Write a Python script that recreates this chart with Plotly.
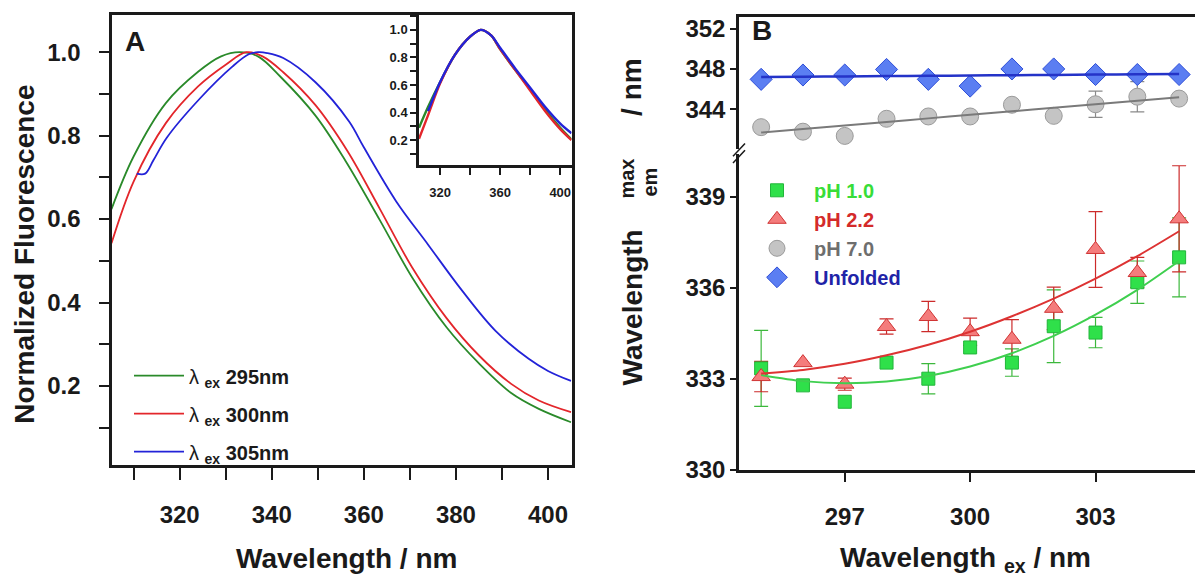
import plotly.graph_objects as go

W, H = 1195, 580
FONT = "Liberation Sans, Arial, sans-serif"

# ---------------- Panel A: normalized emission spectra ----------------
green_x = [305.2, 310, 317, 324, 329, 333, 337, 342, 349.5, 356, 363.5, 370.5, 378, 385, 392, 398, 405]
green_y = [0.624, 0.75, 0.878, 0.953, 0.99, 1.0, 0.99, 0.94, 0.848, 0.74, 0.597, 0.46, 0.34, 0.254, 0.183, 0.145, 0.113]

red_x = [305.2, 310, 317, 324, 330, 334.5, 338, 342.5, 349.5, 356.5, 363.5, 370.5, 378, 385, 392, 398, 405]
red_y = [0.542, 0.69, 0.83, 0.918, 0.97, 1.0, 0.99, 0.952, 0.873, 0.762, 0.624, 0.484, 0.362, 0.273, 0.205, 0.165, 0.137]

blue_x = [310.7, 312.5, 314.3, 317.2, 324.4, 331.5, 335, 337, 339, 342.5, 349.5, 356.8, 360, 367, 374, 381.3, 388.6, 395.8, 400, 405]
blue_y = [0.709, 0.709, 0.741, 0.795, 0.889, 0.966, 0.995, 1.0, 0.998, 0.986, 0.928, 0.834, 0.772, 0.643, 0.538, 0.429, 0.332, 0.265, 0.236, 0.212]

# inset
inset_x = [306, 312, 320, 330, 340, 347, 354, 360, 370, 380, 390, 400, 407.5]
inset_green = [0.29, 0.44, 0.62, 0.82, 0.95, 1.0, 0.96, 0.86, 0.71, 0.57, 0.42, 0.29, 0.205]
inset_red = [0.21, 0.38, 0.61, 0.82, 0.95, 1.0, 0.96, 0.86, 0.71, 0.56, 0.41, 0.28, 0.20]
inset_blue = [None, 0.41, 0.62, 0.82, 0.95, 1.0, 0.96, 0.87, 0.72, 0.58, 0.44, 0.32, 0.25]

legend_a = ["295nm", "300nm", "305nm"]

# ---------------- Panel B: emission maximum vs excitation ----------------
ex_wl = [295, 296, 297, 298, 299, 300, 301, 302, 303, 304, 305]
ph1_y = [333.34, 332.78, 332.24, 333.53, 333.0, 334.03, 333.53, 334.73, 334.52, 336.18, 337.0]
ph1_err = [1.25, None, None, None, 0.5, None, 0.45, 1.2, 0.5, 0.7, 1.3]
ph1_fit = [333.12, 332.92, 332.85, 332.91, 333.09, 333.40, 333.84, 334.41, 335.11, 335.93, 336.88]

ph22_y = [333.07, 333.53, 332.82, 334.72, 335.05, 334.55, 334.3, 335.32, 337.26, 336.5, 338.27]
ph22_err = [0.5, None, 0.2, 0.25, 0.5, 0.45, 0.65, 0.7, 1.25, 0.5, 1.75]
ph22_fit = [333.17, 333.29, 333.49, 333.77, 334.12, 334.55, 335.06, 335.64, 336.30, 337.04, 337.86]

ph7_y = [342.23, 341.78, 341.36, 343.06, 343.29, 343.29, 344.45, 343.35, 344.5, 345.25, 345.06]
ph7_err = [None, None, None, None, None, None, None, None, 1.3, 1.5, None]
ph7_fit = [341.7, 342.05, 342.4, 342.75, 343.1, 343.45, 343.8, 344.15, 344.5, 344.85, 345.2]

unf_y = [346.97, 347.4, 347.4, 347.95, 346.97, 346.3, 348.0, 348.0, 347.45, 347.45, 347.45]
unf_fit = [347.2, 347.23, 347.26, 347.29, 347.32, 347.35, 347.38, 347.41, 347.44, 347.47, 347.5]

legend_b = ["pH 1.0", "pH 2.2", "pH 7.0", "Unfolded"]


def px(p):
    return p / W


def py(p):
    return 1 - p / H


fig = go.Figure()

# ---- Panel A main curves
for xs, ys, col, lab, grp in [(green_x, green_y, "#2a8a2a", legend_a[0], "a1"),
                              (red_x, red_y, "#e3262b", legend_a[1], "a2"),
                              (blue_x, blue_y, "#2323d8", legend_a[2], "a3")]:
    fig.add_trace(go.Scatter(x=xs, y=ys, mode="lines", xaxis="x", yaxis="y",
                             line=dict(color=col, width=1.8, shape="spline", smoothing=1.0),
                             name="<span style='font-weight:normal'>λ</span> <sub>ex</sub> " + lab,
                             legend="legend", legendgroup=grp))

# ---- inset
for ys, col in [(inset_green, "#2a8a2a"), (inset_red, "#e3262b"), (inset_blue, "#2323d8")]:
    fig.add_trace(go.Scatter(x=inset_x, y=ys, mode="lines", xaxis="x2", yaxis="y2",
                             line=dict(color=col, width=2.4, shape="spline", smoothing=0.8),
                             showlegend=False, connectgaps=False))

# ---- Panel B
def err_trace(ys, errs, col, xa, ya):
    idx = [i for i, e in enumerate(errs) if e is not None]
    return go.Scatter(x=[ex_wl[i] for i in idx], y=[ys[i] for i in idx], mode="markers",
                      xaxis=xa, yaxis=ya, marker=dict(size=1, opacity=0), showlegend=False,
                      error_y=dict(type="data", array=[errs[i] for i in idx], color=col,
                                   thickness=1.2, width=7))

fig.add_trace(err_trace(ph1_y, ph1_err, "#3cb83c", "x3", "y3"))
fig.add_trace(err_trace(ph22_y, ph22_err, "#cc2a2a", "x3", "y3"))
fig.add_trace(err_trace(ph7_y, ph7_err, "#8a8a8a", "x4", "y4"))

fig.add_trace(go.Scatter(x=ex_wl, y=ph1_y, mode="markers", xaxis="x3", yaxis="y3",
                         marker=dict(symbol="square", size=13, color="#2fe04a",
                                     line=dict(color="#22b53a", width=1)),
                         name="<span style='color:#38dd38'>" + legend_b[0] + "</span>",
                         legend="legend2"))
fig.add_trace(go.Scatter(x=ex_wl, y=ph22_y, mode="markers", xaxis="x3", yaxis="y3",
                         marker=dict(symbol="triangle-up", size=16, color="#f47c7c",
                                     line=dict(color="#d03434", width=1)),
                         name="<span style='color:#d42a2a'>" + legend_b[1] + "</span>",
                         legend="legend2"))
fig.add_trace(go.Scatter(x=ex_wl, y=ph7_y, mode="markers", xaxis="x4", yaxis="y4",
                         marker=dict(symbol="circle", size=17, color="#c4c4c4",
                                     line=dict(color="#9a9a9a", width=1)),
                         name="<span style='color:#6e6e6e'>" + legend_b[2] + "</span>",
                         legend="legend2"))
fig.add_trace(go.Scatter(x=ex_wl, y=unf_y, mode="markers", xaxis="x4", yaxis="y4",
                         marker=dict(symbol="diamond", size=17, color="#5b7ef2",
                                     line=dict(color="#2e4ed8", width=1)),
                         name="<span style='color:#1f24a8'>" + legend_b[3] + "</span>",
                         legend="legend2"))

for ys, col, w, xa, ya in [(ph1_fit, "#3fcf4f", 2, "x3", "y3"),
                           (ph22_fit, "#dd3333", 2, "x3", "y3"),
                           (ph7_fit, "#7a7a7a", 2, "x4", "y4"),
                           (unf_fit, "#2433c8", 2.5, "x4", "y4")]:
    fig.add_trace(go.Scatter(x=ex_wl, y=ys, mode="lines", xaxis=xa, yaxis=ya,
                             line=dict(color=col, width=w, shape="spline", smoothing=0.8),
                             showlegend=False))

AX = "#1a1a1a"
tickfont_big = dict(family=FONT, size=24, color=AX, weight="bold")
tickfont_small = dict(family=FONT, size=13, color=AX, weight="bold")
NB = "\u00a0"

base = dict(showgrid=False, zeroline=False, showline=True, linecolor=AX, linewidth=2.5,
            ticks="outside", tickcolor=AX, tickwidth=2)

fig.update_layout(
    width=W, height=H, margin=dict(l=0, r=0, t=0, b=0),
    paper_bgcolor="white", plot_bgcolor="white",
    font=dict(family=FONT, color=AX),
    xaxis=dict(**base, domain=[px(111.5), px(571.5)], range=[305.2, 405.1], anchor="y",
               mirror=True, ticklen=12, tickvals=[320, 340, 360, 380, 400], ticklabelstandoff=14,
               minor=dict(dtick=10, tick0=300, ticklen=12, tickwidth=2, tickcolor=AX, ticks="outside"),
               tickfont=tickfont_big),
    yaxis=dict(**base, domain=[py(475.7), py(14)], range=[0.01, 1.09], anchor="x",
               mirror=True, ticklen=10, tickvals=[0.2, 0.4, 0.6, 0.8, 1.0],
               ticktext=[v + NB * 2 for v in ["0.2", "0.4", "0.6", "0.8", "1.0"]],
               minor=dict(dtick=0.1, tick0=0, ticklen=10, tickwidth=2, tickcolor=AX, ticks="outside"),
               tickfont=tickfont_big),
    xaxis2=dict(**base, domain=[px(419), px(571.5)], range=[306, 407.5], anchor="y2",
                mirror=True, ticklen=7, tickvals=[320, 360, 400], ticklabelstandoff=7,
                minor=dict(dtick=20, tick0=300, ticklen=7, tickwidth=2, tickcolor=AX, ticks="outside"),
                tickfont=tickfont_small),
    yaxis2=dict(**base, domain=[py(168), py(14)], range=[0.02, 1.11], anchor="x2",
                mirror=True, ticklen=6, tickvals=[0.2, 0.4, 0.6, 0.8, 1.0], tickformat=".1f",
                minor=dict(dtick=0.1, tick0=0, ticklen=6, tickwidth=2, tickcolor=AX, ticks="outside"),
                tickfont=tickfont_small),
    xaxis3=dict(**base, domain=[px(739), 1.0], range=[294.47, 305.38], anchor="y3",
                ticklen=10, tickvals=[297, 300, 303], ticklabelstandoff=14, tickfont=tickfont_big),
    yaxis3=dict(**base, domain=[py(480.3), py(157)], range=[330, 340.4], anchor="x3",
                ticklen=6, tickvals=[330, 333, 336, 339], tickfont=tickfont_big),
    xaxis4=dict(showgrid=False, zeroline=False, showline=True, linecolor=AX, linewidth=2.5,
                domain=[px(739), 1.0], range=[294.47, 305.38], anchor="y4", side="top",
                matches="x3", ticks="", showticklabels=False),
    yaxis4=dict(**base, domain=[py(152), py(16)], range=[340.03, 353.19], anchor="x4",
                ticklen=6, tickvals=[344, 348, 352], tickfont=tickfont_big),
    legend=dict(x=px(129), y=py(364), xanchor="left", yanchor="top", bgcolor="rgba(0,0,0,0)",
                font=dict(family=FONT, size=20, color=AX, weight="bold"), tracegroupgap=9,
                itemwidth=50),
    legend2=dict(x=px(740), y=py(174), xanchor="left", yanchor="top", bgcolor="rgba(0,0,0,0)",
                 font=dict(family=FONT, size=20, weight="bold"), itemwidth=64),
)

ann = [
    dict(text="A", x=px(135), y=py(41), size=28),
    dict(text="B", x=px(762), y=py(30), size=28),
    dict(text="Wavelength / nm", x=px(346), y=py(571), size=28),
    dict(text="Normalized Fluorescence", x=px(25), y=py(260), size=28, angle=-90),
    dict(text="Wavelength <sub>ex</sub> / nm", x=px(965), y=py(572), size=28),
    dict(text="Wavelength", x=px(632), y=py(314), size=28, angle=-90),
    dict(text="max", x=px(627), y=py(182), size=20, angle=-90),
    dict(text="em", x=px(650), y=py(186), size=20, angle=-90),
    dict(text="/ nm", x=px(632), y=py(88), size=28, angle=-90),
]
for a in ann:
    fig.add_annotation(text=a["text"], x=a["x"], y=a["y"], xref="paper", yref="paper",
                       showarrow=False, textangle=a.get("angle", 0),
                       font=dict(family=FONT, size=a["size"], color=AX, weight="bold"),
                       xanchor="center", yanchor="middle")

# axis break marks on panel B
for dy in (0, 7):
    fig.add_shape(type="line", xref="paper", yref="paper",
                  x0=px(733), y0=py(159 + dy), x1=px(745), y1=py(146 + dy),
                  line=dict(color=AX, width=1.5))

fig.write_html("out.html", include_plotlyjs=True, full_html=True,
               config={"displayModeBar": False},
               post_script="document.body.style.margin='0';document.body.style.overflow='hidden';")
